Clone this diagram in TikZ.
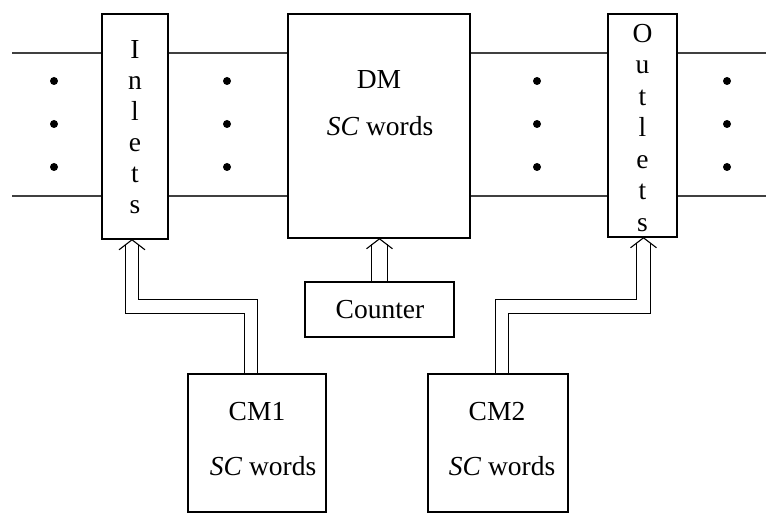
\documentclass[tikz,border=0pt]{standalone}
\usepackage{fontspec}
\setmainfont{Liberation Serif}
\begin{document}
\begin{tikzpicture}[x=1pt,y=-1pt,
  box/.style={draw, line width=1.6pt, fill=white, inner sep=0pt},
  lbl/.style={font=\fontsize{27.5}{29}\selectfont, inner sep=0pt},
  bus/.style={line width=1.1pt, draw=black!75},
  dbl/.style={double, double distance=12.5pt, line width=1.1pt, line join=miter, shorten >=5.5pt},
  chev/.style={line width=1.1pt},
  dot/.style={circle, fill=black, inner sep=0pt, minimum size=8pt}]
\useasboundingbox (0,0) rectangle (766,513);
% bus lines
\coordinate (tl) at (12,53);
\coordinate (tr) at (766,53);
\coordinate (bl) at (12,196);
\coordinate (br) at (766,196);
\draw[bus] (tl) -- (tr);
\draw[bus] (bl) -- (br);
% dots
\foreach \x/\n in {54/a,227/b,537/c,727/d}{
  \foreach \y/\m in {81/1,124/2,167/3}{
    \node[dot] (dot\n\m) at (\x,\y) {};
  }
}
% boxes
\node[box, minimum width=66pt, minimum height=225pt] (inl) at (135,126.5) {};
\node[lbl, align=center, font=\fontsize{27.5}{31}\selectfont] (inltxt) at (135,127) {I\\n\\l\\e\\t\\s};
\node[box, minimum width=69pt, minimum height=223pt] (outl) at (642.5,125.5) {};
\node[lbl, align=center, font=\fontsize{27.5}{31.5}\selectfont] (outtxt) at (642.5,128) {O\\u\\t\\l\\e\\t\\s};
\node[box, minimum width=182pt, minimum height=224pt] (dm) at (379,126) {};
\node[lbl] (dmt) at (379,80) {DM};
\node[lbl] (dmw) at (380,126) {\textit{SC} words};
\node[box, minimum width=149pt, minimum height=55pt] (cnt) at (379.5,309.5) {};
\node[lbl] (cntt) at (380,310) {Counter};
\node[box, minimum width=138pt, minimum height=138pt] (cm1) at (257,443) {};
\node[lbl] (cm1t) at (257,412) {CM1};
\node[lbl] (cm1w) at (263,466) {\textit{SC} words};
\node[box, minimum width=140pt, minimum height=138pt] (cm2) at (498,443) {};
\node[lbl] (cm2t) at (497,412) {CM2};
\node[lbl] (cm2w) at (502,466) {\textit{SC} words};
% double arrows
\coordinate (e1) at (inl.south -| 132,0);
\coordinate (e2) at (dm.south -| cnt.north);
\coordinate (e3) at (outl.south -| 643.5,0);
\draw[dbl] (cm1.north -| 251,0) |- (132,306.5) -- (e1);
\draw[dbl, double distance=15pt] (cnt.north) -- (e2);
\draw[dbl] (cm2.north -| 502,0) |- (643.5,306.5) -- (e3);
\foreach \e in {e1,e2,e3}{
  \draw[chev] ([shift={(-13,10)}]\e) -- (\e) -- ([shift={(13,10)}]\e);
}
\end{tikzpicture}
\end{document}
